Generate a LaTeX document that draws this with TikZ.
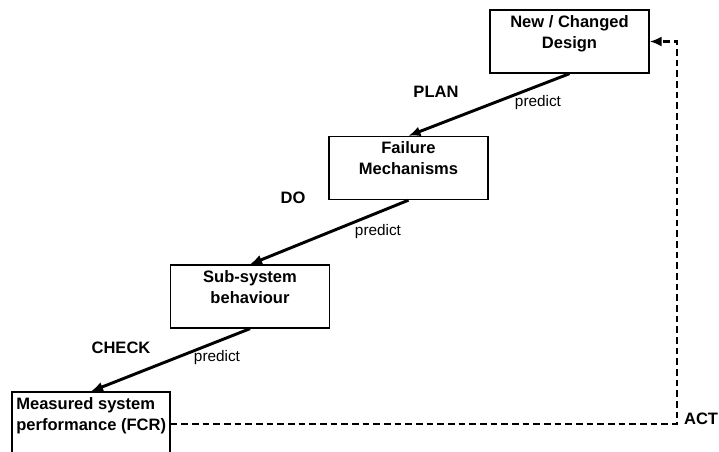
\documentclass[tikz,border=0pt]{standalone}
\usepackage{fontspec}
\setmainfont{Liberation Sans}
\usetikzlibrary{arrows.meta,positioning}

% text of a stage box, hung from the top edge
\newcommand{\stagetext}[1]{\parbox[c][47.25pt][t]{116pt}{\vspace*{4pt}\centering\baselineskip=15.75pt #1}}
\newcommand{\resulttext}[1]{\parbox[c][48pt][t]{114pt}{\vspace*{4pt}\raggedright\baselineskip=15.75pt #1}}

\begin{document}
\begin{tikzpicture}[x=0.75pt,y=-0.75pt,
    stage/.style={draw, line width=1pt, inner sep=0pt, minimum width=119.25pt,
      minimum height=47.25pt, font=\fontsize{12.4}{15}\selectfont\bfseries},
    phase/.style={font=\fontsize{12.4}{15}\selectfont\bfseries},
    note/.style={font=\fontsize{11.5}{14}\selectfont},
    step arrow/.style={line width=2.2pt, -{Latex[length=9pt,width=7.5pt]}},
    feedback/.style={line width=1.9pt, dash pattern=on 5pt off 3pt,
      -{Latex[length=9pt,width=7.5pt]}}]
  \useasboundingbox (0,0) rectangle (719,451);

  % the four stages, stepping down to the left
  \node[stage] (design) at (569.5,41.5) {\stagetext{New / Changed\\Design}};
  \node[stage] (failure) at (408.5,168) {\stagetext{Failure\\Mechanisms}};
  \node[stage] (subsys) at (250,296.5) {\stagetext{Sub-system\\behaviour}};
  \node[stage, minimum width=118.5pt, minimum height=48pt] (measured) at (91,424)
    {\resulttext{\hspace*{1pt}Measured system\\\hspace*{1pt}performance (FCR)}};

  % predictions down the steps
  \draw[step arrow] (design.south) -- (failure.north);
  \draw[step arrow] (failure.south) -- (subsys.north);
  \draw[step arrow] (subsys.south) -- (measured.north);

  \node[phase] (plan) at (436,92) {PLAN};
  \node[note] (pred1) at (538,103) {predict};
  \node[phase] (do) at (293,198) {DO};
  \node[note] (pred2) at (378,232) {predict};
  \node[phase] (check) at (121,348) {CHECK};
  \node[note] (pred3) at (217,358) {predict};

  % feedback loop back to the design
  \coordinate (turn) at (677,424);
  \draw[feedback] (measured.east) -- (turn) |- (design.east);
  \node[phase, anchor=east, inner xsep=0.5pt] (act) at (719,419) {ACT};
\end{tikzpicture}
\end{document}
